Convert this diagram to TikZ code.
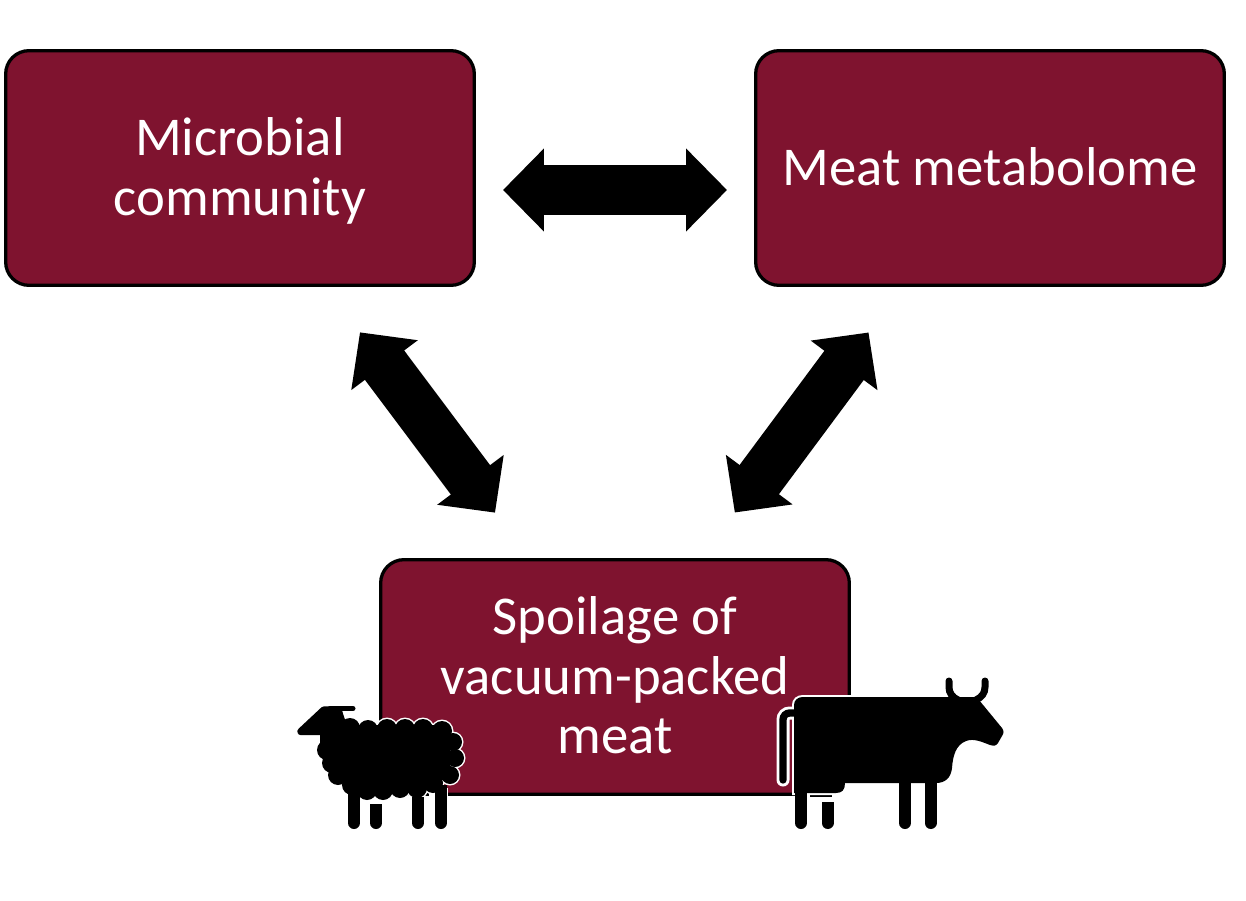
\documentclass[tikz,border=0pt]{standalone}
\usepackage{fontspec}
\setmainfont{Carlito}
\usetikzlibrary{arrows.meta,positioning,calc}
\definecolor{meatred}{HTML}{7F132F}
\tikzset{
  panel/.style={draw=black,line width=2.8pt,fill=meatred,rounded corners=0.7cm,
    minimum width=14.06cm,minimum height=7.04cm,text=white,align=center,
    font=\fontsize{46.7}{51.2}\selectfont},
  link/.style={line width=1.47cm,{Triangle[length=1.23cm,width=2.42cm]}-{Triangle[length=1.23cm,width=2.42cm]}},
  leg/.style={line width=12*0.03cm,line cap=round}
}
\newcommand{\cowbody}{(794,710) -- (794,705) .. controls (794,700) and (798,697) .. (803,697) -- (976,697) -- (979,700) -- (1002,728) .. controls (1004,731) and (1004,733) .. (1002,736) -- (998,743) .. controls (996,746) and (994,746) .. (990,745)
    .. controls (982,742) and (974,738) .. (966,741) .. controls (956,745) and (953,755) .. (952,768)
    .. controls (951,778) and (945,783) .. (936,783) -- (845,783) .. controls (845,790) and (842,793) .. (836,793) -- (794,793) -- cycle}
\newcommand{\sheepwool}{350/728/10,368/730/10,387/729/10,405/729/10,423/729/10,442/731/10,453/742/9,455/758/9,450/775/9,433/783/10,417/788/10,400/788/10,383/790/10,367/790/10,352/785/10,338/775/10,332/763/10,327/750/10}
\begin{document}
\begin{tikzpicture}[x=0.03cm,y=-0.03cm]
  \useasboundingbox (0,0) rectangle (1246,901);
  \node[panel] (micro) at (240,168) {\rule{0pt}{37.5pt}Microbial\\community};
  \node[panel] (meta) at (990,168) {\raisebox{2pt}{Meat metabolome}};
  \node[panel] (spoil) at (615,677) {Spoilage of\\vacuum-packed\\meat\rule[-3.4pt]{0pt}{1pt}};
  % arrows
  \draw[link,shorten >=0.81cm,shorten <=0.81cm] ([yshift=-0.66cm]micro.east) -- ([yshift=-0.66cm]meta.west);
  \draw[link,shorten >=1.7cm,shorten <=1.7cm] ([xshift=2.58cm]micro.south) -- ([xshift=-2.58cm]spoil.north);
  \draw[link,shorten >=1.7cm,shorten <=1.7cm] ([xshift=-2.63cm]meta.south) -- ([xshift=2.58cm]spoil.north);
  % sheep
  \foreach \x/\y/\r in \sheepwool
    \fill[white] (\x,\y) circle ({(\r+1.5)*0.03cm});
  \fill[white] (429,788) rectangle (448,801);
  \foreach \x/\y in {354/790,376/804,418/797,441/785}{
    \draw[leg] (\x,\y+6) -- (\x,823);
    \draw[line width=12*0.03cm] (\x,\y) -- (\x,\y+6);
  }
  \draw[fill,line width=0.22cm,line join=round] (301,731.5) -- (324,710) -- (338,710) -- (345,731.5) -- cycle;
  \draw[line width=0.15cm,line cap=round] (330,708.5) -- (353,708.5);
  \fill (320,734) rectangle (345,745);
  \foreach \x/\y/\r in \sheepwool
    \fill (\x,\y) circle ({\r*0.03cm});
  \fill (335,725) rectangle (450,780);
  \fill (345,770) rectangle (430,790);
  % cow
  \fill[white] (807,783) rectangle (853,802);
  \draw[white,line width=0.39cm,line cap=round,rounded corners=0.2cm] (783,780) -- (783,713) -- (796,713);
  \draw[black,line width=0.06cm] (810,796) -- (832,796);
  \path[draw=white,line width=0.12cm] \cowbody;
  \draw[line width=0.22cm,line cap=round,rounded corners=0.2cm] (783,780) -- (783,713) -- (796,713);
  \draw[leg] (801,790) -- (801,823);
  \draw[leg] (827.5,808) -- (827.5,823);
  \draw[line width=12*0.03cm] (827.5,802) -- (827.5,808);
  \draw[leg] (905,780) -- (905,823);
  \draw[leg] (930.5,780) -- (930.5,823);
  \draw[line width=0.21cm,line cap=round] (949,681) -- (949,687) .. controls (949,693) and (952,697) .. (958,700);
  \draw[line width=0.21cm,line cap=round] (985,681) -- (985,687) .. controls (985,693) and (982,697) .. (976,700);
  \fill \cowbody;
\end{tikzpicture}
\end{document}
